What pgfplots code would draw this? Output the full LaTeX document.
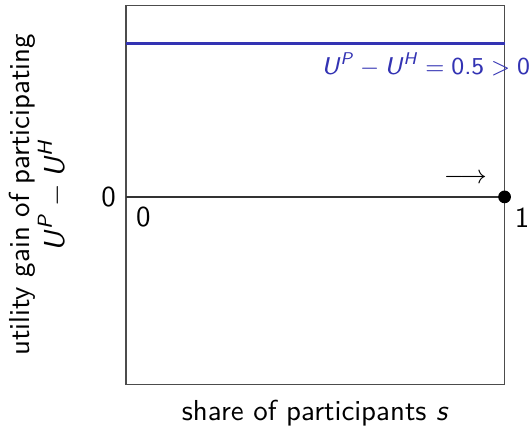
\documentclass[border=0pt]{standalone}
\usepackage{amsmath}
\usepackage{pgfplots}
\pgfplotsset{compat=1.18}
\definecolor{ublue}{RGB}{51,51,179}
\newcommand\U[1]{\text{\textsl{U}}^{\text{\textsl{#1}}}}
\begin{document}
\sffamily
\begin{tikzpicture}
\begin{axis}[
  width=131pt, height=131.3pt, scale only axis,
  xmin=0, xmax=1, ymin=-0.612, ymax=0.625,
  xtick=\empty, ytick={0}, yticklabels={0},
  major tick length=0pt,
  axis line style={black!70},
  clip=false,
  xlabel={share of participants \textsl{s}},
  xlabel shift=2pt,
  ylabel={utility gain of participating\\$\U{P}-\U{H}$},
  ylabel style={align=center},
  ylabel shift=5pt,
]
\addplot[black!80, line width=0.5pt] coordinates {(0,0) (1,0)};
\addplot[ublue, line width=1.2pt] coordinates {(0,0.5) (1,0.5)};
\addplot[only marks, mark=*, mark size=2pt, black] coordinates {(1,0)};
\node[below right] at (axis cs:0,0) {0};
\node[anchor=north west, inner sep=0pt, xshift=3.4pt, yshift=-3.6pt] at (axis cs:1,0) {1};
\node[anchor=east, inner sep=0pt, font=\small] at (axis cs:0.955,0.06) {$\longrightarrow$};
\node[anchor=north east, inner sep=0pt, xshift=9pt, yshift=-3pt, text=ublue, font=\fontsize{8.4}{10}\selectfont] at (axis cs:1,0.5) {$\U{P}-\U{H}=\text{0.5}>\text{0}$};
\end{axis}
\path ([yshift=1.8pt]current axis.north);
\end{tikzpicture}
\end{document}
